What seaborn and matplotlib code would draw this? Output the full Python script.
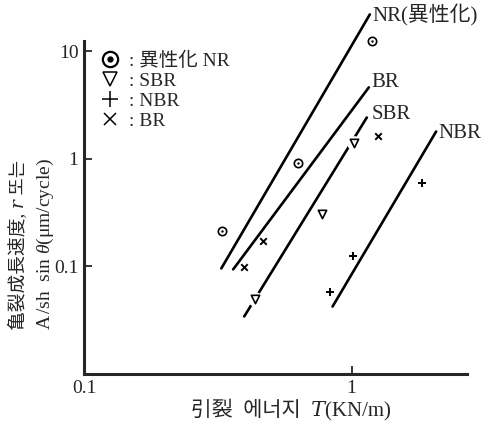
import matplotlib
matplotlib.use("Agg")
import matplotlib.pyplot as plt
from matplotlib.lines import Line2D
from matplotlib.legend_handler import HandlerTuple
import seaborn as sns
import pandas as pd

# ---- data ----
nr_T = [0.329, 0.628, 1.19]
nr_rate = [0.212, 0.927, 12.6]
sbr_T = [0.437, 0.773, 1.02]
sbr_rate = [0.0503, 0.311, 1.42]
nbr_T = [0.834, 1.01, 1.84]
nbr_rate = [0.0585, 0.124, 0.604]
br_T = [0.397, 0.468, 1.25]
br_rate = [0.098, 0.171, 1.62]

# fitted lines (end points)
nr_line_T = [0.326, 1.17]
nr_line_rate = [0.096, 22.1]
br_line_T = [0.361, 1.16]
br_line_rate = [0.094, 4.63]
sbr_line_T = [0.397, 1.14]
sbr_line_rate = [0.0343, 2.43]
nbr_line_T = [0.849, 2.07]
nbr_line_rate = [0.0424, 1.80]

line_names = ["NR(異性化)", "BR", "SBR", "NBR"]
legend_labels = [": 異性化 NR", ": SBR", ": NBR", ": BR"]
x_ticks = [0.1, 1]
x_tick_labels = ["0.1", "1"]
y_ticks = [0.1, 1, 10]
y_tick_labels = ["0.1", "1", "10"]

sns.set_style("ticks")
FAM = ["Liberation Serif", "Noto Sans CJK JP", "DejaVu Serif", "DejaVu Sans"]
plt.rcParams["font.family"] = FAM
plt.rcParams["mathtext.fontset"] = "custom"
plt.rcParams["mathtext.rm"] = "Liberation Serif"
plt.rcParams["mathtext.it"] = "Liberation Serif:italic"
plt.rcParams["mathtext.default"] = "it"

fig = plt.figure(figsize=(4.84, 4.30), dpi=100)
W, H = 484, 430
ax = fig.add_axes([84 / W, 1 - 374 / H, (467 - 84) / W, (374 - 10) / H])
ax.set_xscale("log")
ax.set_yscale("log")
ax.set_xlim(0.1, 2.70)
ax.set_ylim(0.01, 24.3)

lines = pd.DataFrame({
    "T": nr_line_T + br_line_T + sbr_line_T + nbr_line_T,
    "rate": nr_line_rate + br_line_rate + sbr_line_rate + nbr_line_rate,
    "name": sum([[n] * 2 for n in line_names], []),
})
sns.lineplot(data=lines, x="T", y="rate", units="name", estimator=None,
             color="black", lw=1.9, ax=ax, legend=False, clip_on=False, zorder=2)

# label at upper end of each line
label_off = {"NR(異性化)": (3, -1), "BR": (3, 5), "SBR": (5, 3), "NBR": (2, -2)}
for name in line_names:
    sub = lines[lines["name"] == name]
    xe, ye = sub["T"].iloc[-1], sub["rate"].iloc[-1]
    ax.annotate(name, (xe, ye), xytext=label_off[name], textcoords="offset pixels",
                ha="left", va="center", fontsize=15, annotation_clip=False)

pts_kw = dict(ax=ax, legend=False, zorder=4, clip_on=False)
# NR: dotted circle
nr_df = pd.DataFrame({"T": nr_T, "rate": nr_rate})
sns.scatterplot(data=nr_df, x="T", y="rate", marker="o", s=60, facecolor="white",
                edgecolor="white", linewidth=1.5, ax=ax, legend=False, zorder=3)
sns.scatterplot(data=nr_df, x="T", y="rate", marker="o", s=36, facecolor="white",
                edgecolor="black", linewidth=1.2, **pts_kw)
sns.scatterplot(data=nr_df, x="T", y="rate", marker="o", s=3, color="black",
                linewidth=0, ax=ax, legend=False, zorder=5)
# SBR: open triangles with gap in the line
sbr_df = pd.DataFrame({"T": sbr_T, "rate": sbr_rate})
sns.scatterplot(data=sbr_df, x="T", y="rate", marker="o", s=110, color="white",
                linewidth=0, ax=ax, legend=False, zorder=3)
sns.scatterplot(data=sbr_df, x="T", y="rate", marker="v", s=36, facecolor="white",
                edgecolor="black", linewidth=1.2, **pts_kw)
# NBR: plus
nbr_df = pd.DataFrame({"T": nbr_T, "rate": nbr_rate})
sns.scatterplot(data=nbr_df, x="T", y="rate", marker="+", s=30, color="black",
                linewidth=1.4, **pts_kw)
# BR: cross
br_df = pd.DataFrame({"T": br_T, "rate": br_rate})
sns.scatterplot(data=br_df, x="T", y="rate", marker="x", s=22, color="black",
                linewidth=1.4, **pts_kw)

# legend
h_nr = (Line2D([], [], ls="none", marker="o", ms=11, mfc="white", mec="black", mew=1.6),
        Line2D([], [], ls="none", marker="o", ms=3.5, color="black"))
h_sbr = Line2D([], [], ls="none", marker="v", ms=10, mfc="white", mec="black", mew=1.1)
h_nbr = Line2D([], [], ls="none", marker="+", ms=11, color="black", mew=1.1)
h_br = Line2D([], [], ls="none", marker="x", ms=8, color="black", mew=1.1)
ax.legend([h_nr, h_sbr, h_nbr, h_br], legend_labels,
          handler_map={tuple: HandlerTuple(ndivide=1, pad=0)},
          loc="upper left", bbox_to_anchor=(100 / W, 1 - 52 / H),
          bbox_transform=fig.transFigure, frameon=False, fontsize=14,
          handlelength=1.0, handletextpad=0.5, labelspacing=0.12, borderpad=0,
          borderaxespad=0)

# axes styling
for s in ["top", "right"]:
    ax.spines[s].set_visible(False)
ax.spines["left"].set_linewidth(2.2)
ax.spines["bottom"].set_linewidth(2.2)
ax.spines["left"].set_bounds(0.01, 12.4)
ax.set_xticks(x_ticks)
ax.set_xticklabels(x_tick_labels)
ax.set_yticks(y_ticks)
ax.set_yticklabels(y_tick_labels)
ax.minorticks_off()
ax.tick_params(axis="both", direction="in", length=6, width=1.3, labelsize=14, pad=4)
ax.set_xlabel("")
ax.set_ylabel("")

fig.text(291 / W, 1 - 410 / H, "引裂  에너지  𝑇(KN/m)", ha="center", va="center",
         fontsize=15)
fig.text(19 / W, 1 - 330 / H, "亀裂成長速度, 𝑟 또는", rotation=90, ha="center",
         va="bottom", fontsize=13.5)
fig.text(45 / W, 1 - 330 / H, r"$\mathrm{A\,/sh\ \ sin}\ \theta\mathrm{(\mu m/cycle)}$",
         rotation=90, ha="center", va="bottom", fontsize=14)

fig.savefig("out.png", dpi=100, facecolor="white")
